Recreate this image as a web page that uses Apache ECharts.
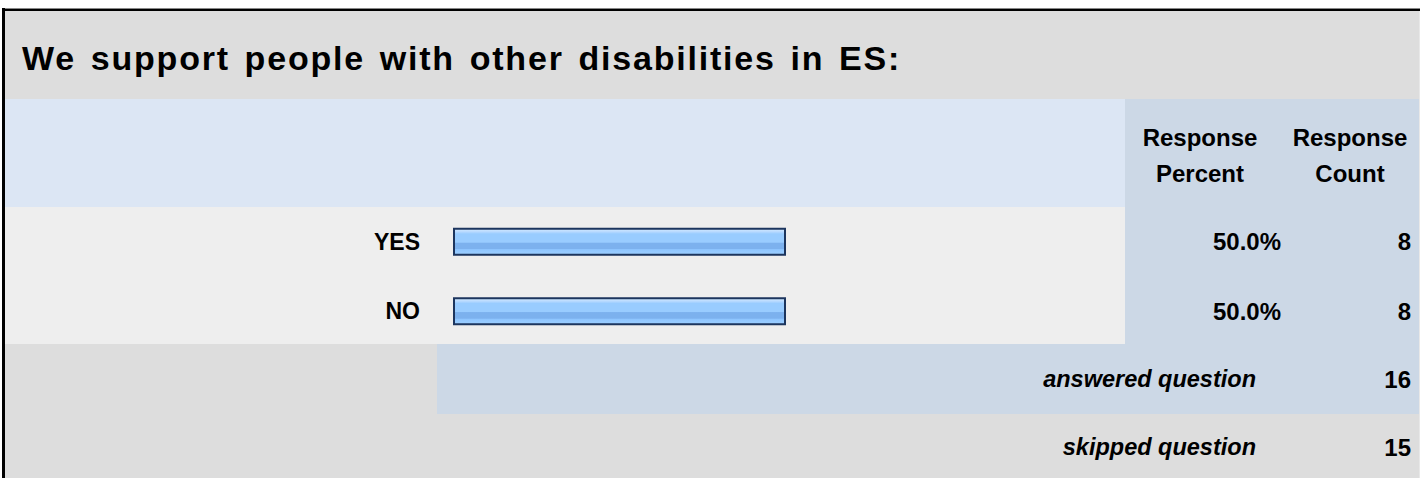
<!DOCTYPE html>
<html>
<head>
<meta charset="utf-8">
<script src="https://cdn.jsdelivr.net/npm/echarts@6/dist/echarts.min.js"></script>
<style>
html,body{margin:0;padding:0;background:#fff;}
#chart{width:1420px;height:478px;}
</style>
</head>
<body>
<div id="chart"></div>
<script>
const titleText = 'We support people with other disabilities in ES:';
const categories = ['YES', 'NO'];
const responsePercent = [50.0, 50.0];
const responseCount = [8, 8];
const columnHeaders = ['Response\nPercent', 'Response\nCount'];
const summaryLabels = ['answered question', 'skipped question'];
const summaryValues = [16, 15];

const FONT = "'Liberation Sans', Arial, Helvetica, sans-serif";
const chart = echarts.init(document.getElementById('chart'), null, {renderer: 'svg'});

const barGradient = new echarts.graphic.LinearGradient(0, 0, 0, 1, [
  {offset: 0, color: '#d4ebff'},
  {offset: 0.1, color: '#bddcff'},
  {offset: 0.2, color: '#99ccff'},
  {offset: 0.52, color: '#99ccff'},
  {offset: 0.55, color: '#7cb1ee'},
  {offset: 0.77, color: '#7cb1ee'},
  {offset: 0.8, color: '#8ec5ff'},
  {offset: 1, color: '#9dcfff'}
]);

function rect(x, y, w, h, fill) {
  return {type: 'rect', silent: true, z: -10, shape: {x: x, y: y, width: w, height: h}, style: {fill: fill}};
}

chart.setOption({
  animation: false,
  backgroundColor: '#ffffff',
  grid: {left: 453, top: 207, width: 666, height: 139, containLabel: false},
  xAxis: {type: 'value', min: 0, max: 100, show: false},
  yAxis: {
    type: 'category', data: categories, inverse: true,
    axisLine: {show: false}, axisTick: {show: false}, splitLine: {show: false},
    axisLabel: {margin: 33, color: '#000', fontSize: 23, fontWeight: 'bold', fontFamily: FONT}
  },
  series: [{
    type: 'bar', data: responsePercent, barWidth: 28,
    itemStyle: {color: barGradient, borderColor: '#1c355e', borderWidth: 2},
    silent: true
  }]
});

const g = [
  rect(3, 10, 1417, 89, '#dddddd'),
  rect(3, 99, 1122, 108, '#dce6f4'),
  rect(1125, 99, 295, 108, '#ccd8e6'),
  rect(3, 207, 1122, 137, '#eeeeee'),
  rect(1125, 207, 295, 137, '#ccd8e6'),
  rect(3, 344, 434, 70, '#dddddd'),
  rect(437, 344, 983, 70, '#ccd8e6'),
  rect(3, 414, 1417, 64, '#dddddd'),
  {type: 'line', silent: true, z: -5, shape: {x1: 2, y1: 8.5, x2: 1420, y2: 8.5}, style: {stroke: '#888', lineWidth: 1}},
  {type: 'line', silent: true, z: -5, shape: {x1: 2, y1: 10, x2: 1420, y2: 10}, style: {stroke: '#000', lineWidth: 2}},
  {type: 'line', silent: true, z: -5, shape: {x1: 3.5, y1: 8, x2: 3.5, y2: 478}, style: {stroke: '#000', lineWidth: 3}},
  {type: 'line', silent: true, z: -5, shape: {x1: 1419.5, y1: 11, x2: 1419.5, y2: 478}, style: {stroke: '#e8e8e8', lineWidth: 1}},
  {type: 'text', silent: true, z: 5, style: {x: 22, y: 58, text: titleText, fill: '#000', font: 'bold 34px ' + FONT, textAlign: 'left', textVerticalAlign: 'middle'}},
  {type: 'text', silent: true, z: 5, style: {x: 1200, y: 155, text: columnHeaders[0], fill: '#000', font: 'bold 24px ' + FONT, textAlign: 'center', textVerticalAlign: 'middle', lineHeight: 36}},
  {type: 'text', silent: true, z: 5, style: {x: 1350, y: 155, text: columnHeaders[1], fill: '#000', font: 'bold 24px ' + FONT, textAlign: 'center', textVerticalAlign: 'middle', lineHeight: 36}}
];

categories.forEach(function (c, i) {
  const py = chart.convertToPixel({yAxisIndex: 0}, c);
  g.push({type: 'text', silent: true, z: 5, style: {x: 1281, y: py, text: responsePercent[i].toFixed(1) + '%', fill: '#000', font: 'bold 24px ' + FONT, textAlign: 'right', textVerticalAlign: 'middle'}});
  g.push({type: 'text', silent: true, z: 5, style: {x: 1411, y: py, text: String(responseCount[i]), fill: '#000', font: 'bold 24px ' + FONT, textAlign: 'right', textVerticalAlign: 'middle'}});
});

const summaryY = [379, 447];
summaryLabels.forEach(function (s, i) {
  g.push({type: 'text', silent: true, z: 5, style: {x: 1256, y: summaryY[i], text: s, fill: '#000', font: 'italic bold 23.5px ' + FONT, textAlign: 'right', textVerticalAlign: 'middle'}});
  g.push({type: 'text', silent: true, z: 5, style: {x: 1411, y: summaryY[i], text: String(summaryValues[i]), fill: '#000', font: 'bold 24px ' + FONT, textAlign: 'right', textVerticalAlign: 'middle'}});
});

chart.setOption({graphic: {elements: g}});

function spaceTitle() {
  const texts = document.querySelectorAll('#chart text');
  texts.forEach(function (t) {
    if (t.textContent === titleText) {
      t.setAttribute('letter-spacing', '1.8');
      t.setAttribute('word-spacing', '3.5');
    }
  });
}
spaceTitle();
setTimeout(spaceTitle, 0);
chart.on('finished', spaceTitle);
</script>
</body>
</html>
